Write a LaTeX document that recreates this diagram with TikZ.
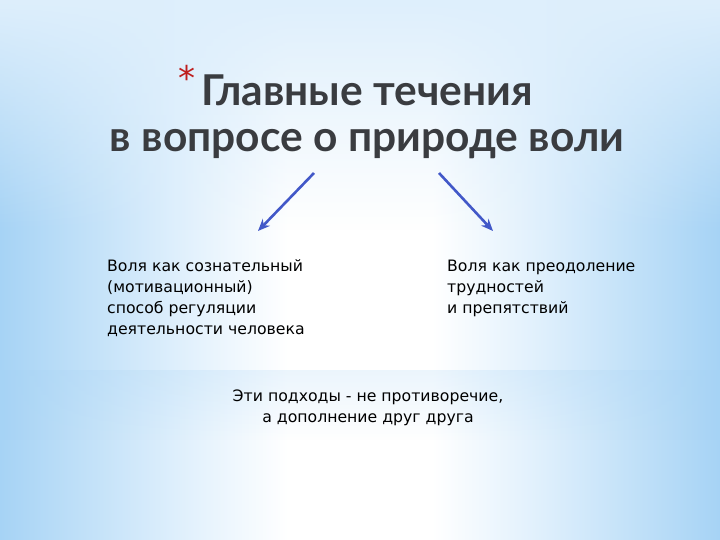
\documentclass[tikz,border=0pt]{standalone}
\usepackage{fontspec}
\setmainfont{DejaVu Sans}
\newfontfamily\headfont{Lato}
\usetikzlibrary{positioning,arrows.meta,fadings}

\definecolor{skyblue}{RGB}{166,211,245}
\definecolor{midblue}{RGB}{198,227,249}
\definecolor{lightblue}{RGB}{230,243,253}
\definecolor{paleblue}{RGB}{222,239,252}
\definecolor{arrowblue}{RGB}{66,88,200}
\definecolor{headgray}{RGB}{58,60,64}
\definecolor{starred}{RGB}{190,30,30}

\pgfdeclarehorizontalshading{slidebg}{100bp}{color(0bp)=(skyblue); color(25bp)=(skyblue);
  color(32bp)=(midblue); color(39bp)=(lightblue); color(45bp)=(white); color(55bp)=(white);
  color(61bp)=(lightblue); color(68bp)=(midblue); color(75bp)=(skyblue); color(100bp)=(skyblue)}

\tikzset{
  headline/.style={inner sep=0pt, anchor=base, text=headgray,
    font=\headfont\bfseries\fontsize{42.5}{46}\selectfont},
  starmark/.style={inner sep=0pt, text=starred, font=\fontsize{34}{34}\selectfont},
  bodytext/.style={inner sep=0pt, align=left, text=black,
    font=\fontsize{15.7}{21}\selectfont},
  branch/.style={-{Stealth[length=12pt,width=10pt]}, line width=2.6pt, arrowblue},
}

\begin{document}
\begin{tikzpicture}[x=1pt,y=-1pt]
  \useasboundingbox (0,0) rectangle (720,540);
  % background
  \shade[shading=slidebg] (0,0) rectangle (720,540);
  \fill[paleblue, path fading=south] (0,0) rectangle (720,230);
  \fill[skyblue, opacity=0.22, path fading=south] (0,370) rectangle (720,440);

  % heading
  \node[headline] (head1) at (367,106) {Главные течения};
  \node[headline] (head2) at (367,152) {в вопросе о природе воли};
  \node[starmark, anchor=north east] (star) at ([xshift=-5pt,yshift=10pt]head1.north west) {*};

  % arrows
  \coordinate (lstart) at (314,173);
  \coordinate (lend) at (258,231);
  \coordinate (rstart) at (439,173);
  \coordinate (rend) at (493,231);
  \draw[branch] (lstart) -- (lend);
  \draw[branch] (rstart) -- (rend);

  % the two views
  \node[bodytext, anchor=north west] (will1) at (107,259)
    {Воля как сознательный\\(мотивационный)\\способ регуляции\\деятельности человека};
  \node[bodytext, anchor=north west] (will2) at (447,260)
    {Воля как преодоление\\трудностей\\и препятствий};

  % conclusion
  \node[bodytext, align=center, anchor=north] (sum) at (368,390)
    {Эти подходы - не противоречие,\\а дополнение друг друга};
\end{tikzpicture}
\end{document}
